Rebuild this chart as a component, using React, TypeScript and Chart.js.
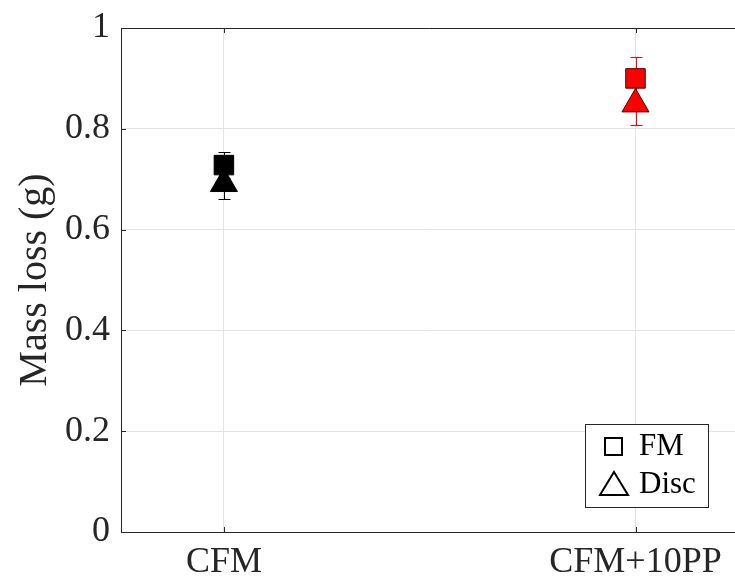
import React, { useEffect, useRef } from 'react';
import { Chart, registerables } from 'chart.js';

Chart.register(...registerables);

const categories = ['CFM', 'CFM+10PP'];
const seriesLabels = ['FM', 'Disc'];
const fmValues = [0.728, 0.9];
const fmErrors = [0.026, 0.042];
const discValues = [0.691, 0.849];
const discErrors = [0.03, 0.041];
const pointColors = ['#000000', '#ff0000'];
const edgeColors = ['#000000', '#550000'];
const errorColors = ['#000000', '#ff0000'];
const yTicks = [0, 0.2, 0.4, 0.6, 0.8, 1];
const yAxisTitle = 'Mass loss (g)';

const FONT = "'Liberation Serif', 'Times New Roman', serif";
const AXIS = '#262626';

const errorBarPlugin = {
  id: 'errorBars',
  beforeDatasetsDraw(chart: any) {
    const ctx = chart.ctx;
    const xs = chart.scales.x;
    const ys = chart.scales.y;
    chart.data.datasets.forEach((ds: any) => {
      const errs: number[] = ds.errors || [];
      ds.data.forEach((p: any, i: number) => {
        const e = errs[i];
        if (e == null) return;
        const x = Math.round(xs.getPixelForValue(p.x)) + 0.5;
        const y1 = Math.round(ys.getPixelForValue(p.y + e)) + 0.5;
        const y2 = Math.round(ys.getPixelForValue(p.y - e)) + 0.5;
        ctx.save();
        ctx.strokeStyle = errorColors[i];
        ctx.lineWidth = 1;
        ctx.beginPath();
        ctx.moveTo(x, y1);
        ctx.lineTo(x, y2);
        ctx.moveTo(x - 6, y1);
        ctx.lineTo(x + 6, y1);
        ctx.moveTo(x - 6, y2);
        ctx.lineTo(x + 6, y2);
        ctx.stroke();
        ctx.restore();
      });
    });
  },
};

const frameAndLegendPlugin = {
  id: 'frameLegend',
  afterDraw(chart: any) {
    const ctx = chart.ctx;
    const { left, right, top, bottom } = chart.chartArea;
    const xs = chart.scales.x;
    const ys = chart.scales.y;
    ctx.save();
    ctx.strokeStyle = AXIS;
    ctx.lineWidth = 1;
    ctx.beginPath();
    ctx.moveTo(left, Math.round(top) + 0.5);
    ctx.lineTo(right, Math.round(top) + 0.5);
    ctx.stroke();
    ctx.beginPath();
    yTicks.forEach((v) => {
      const y = Math.round(ys.getPixelForValue(v)) + 0.5;
      ctx.moveTo(left, y);
      ctx.lineTo(left + 5, y);
    });
    [1, 2].forEach((v) => {
      const x = Math.round(xs.getPixelForValue(v)) + 0.5;
      ctx.moveTo(x, bottom);
      ctx.lineTo(x, bottom - 5);
      ctx.moveTo(x, top);
      ctx.lineTo(x, top + 5);
    });
    ctx.stroke();

    // legend
    const bx = 585, by = 424, bw = 123, bh = 83;
    ctx.fillStyle = '#ffffff';
    ctx.fillRect(bx, by, bw, bh);
    ctx.strokeStyle = AXIS;
    ctx.lineWidth = 1;
    ctx.strokeRect(bx + 0.5, by + 0.5, bw, bh);

    ctx.strokeStyle = '#000000';
    ctx.lineWidth = 2;
    ctx.strokeRect(605, 438, 17, 17);
    ctx.beginPath();
    ctx.moveTo(614, 472);
    ctx.lineTo(628, 495);
    ctx.lineTo(600, 495);
    ctx.closePath();
    ctx.stroke();

    ctx.fillStyle = '#000000';
    ctx.font = `31px ${FONT}`;
    ctx.textAlign = 'left';
    ctx.textBaseline = 'alphabetic';
    ctx.fillText(chart.data.datasets[0].label, 639, 455);
    ctx.fillText(chart.data.datasets[1].label, 639, 493);
    ctx.restore();
  },
};

const clearPadding = (s: any) => {
  s.paddingTop = 0;
  s.paddingBottom = 0;
  s.paddingLeft = 0;
  s.paddingRight = 0;
};

export default function App() {
  const ref = useRef<HTMLCanvasElement | null>(null);
  useEffect(() => {
    if (!ref.current) return;
    const chart = new Chart(ref.current, {
      type: 'scatter',
      data: {
        datasets: [
          {
            label: seriesLabels[0],
            data: fmValues.map((v, i) => ({ x: i + 1, y: v })),
            errors: fmErrors,
            pointStyle: 'rect',
            pointRadius: 13.8,
            backgroundColor: pointColors,
            borderColor: edgeColors,
            borderWidth: 1,
          } as any,
          {
            label: seriesLabels[1],
            data: discValues.map((v, i) => ({ x: i + 1, y: v })),
            errors: discErrors,
            pointStyle: 'triangle',
            pointRadius: 15.6,
            backgroundColor: pointColors,
            borderColor: edgeColors,
            borderWidth: 1,
          } as any,
        ],
      },
      options: {
        responsive: false,
        animation: false,
        events: [],
        layout: { padding: { top: 28, right: 3, left: 0, bottom: 0 } },
        plugins: { legend: { display: false }, tooltip: { enabled: false } },
        scales: {
          x: {
            type: 'linear',
            min: 0.75,
            max: 2.25,
            afterBuildTicks: (s: any) => {
              s.ticks = [{ value: 1 }, { value: 2 }];
            },
            afterFit: (s: any) => {
              s.height = 47;
              clearPadding(s);
            },
            ticks: {
              autoSkip: false,
              maxRotation: 0,
              padding: 9,
              color: AXIS,
              font: { family: FONT, size: 36 },
              callback: (v: any) => categories[Number(v) - 1] ?? '',
            },
            grid: { color: '#e3e3e3', drawTicks: false },
            border: { color: AXIS, width: 1 },
          },
          y: {
            type: 'linear',
            min: 0,
            max: 1,
            afterBuildTicks: (s: any) => {
              s.ticks = yTicks.map((v) => ({ value: v }));
            },
            afterFit: (s: any) => {
              s.width = 121;
              clearPadding(s);
            },
            ticks: {
              padding: 11,
              color: AXIS,
              font: { family: FONT, size: 36 },
              callback: (v: any) => String(Math.round(Number(v) * 10) / 10),
            },
            grid: { color: '#e3e3e3', drawTicks: false },
            border: { color: AXIS, width: 1 },
            title: {
              display: true,
              text: yAxisTitle,
              color: AXIS,
              font: { family: FONT, size: 40 },
              padding: { top: 11, bottom: 0 },
            },
          },
        },
      },
      plugins: [errorBarPlugin, frameAndLegendPlugin],
    } as any);
    return () => chart.destroy();
  }, []);

  return (
    <div
      style={{
        position: 'fixed',
        left: 0,
        top: 0,
        width: 735,
        height: 579,
        overflow: 'hidden',
        background: '#ffffff',
      }}
    >
      <canvas ref={ref} width={755} height={579} style={{ display: 'block' }} />
    </div>
  );
}
